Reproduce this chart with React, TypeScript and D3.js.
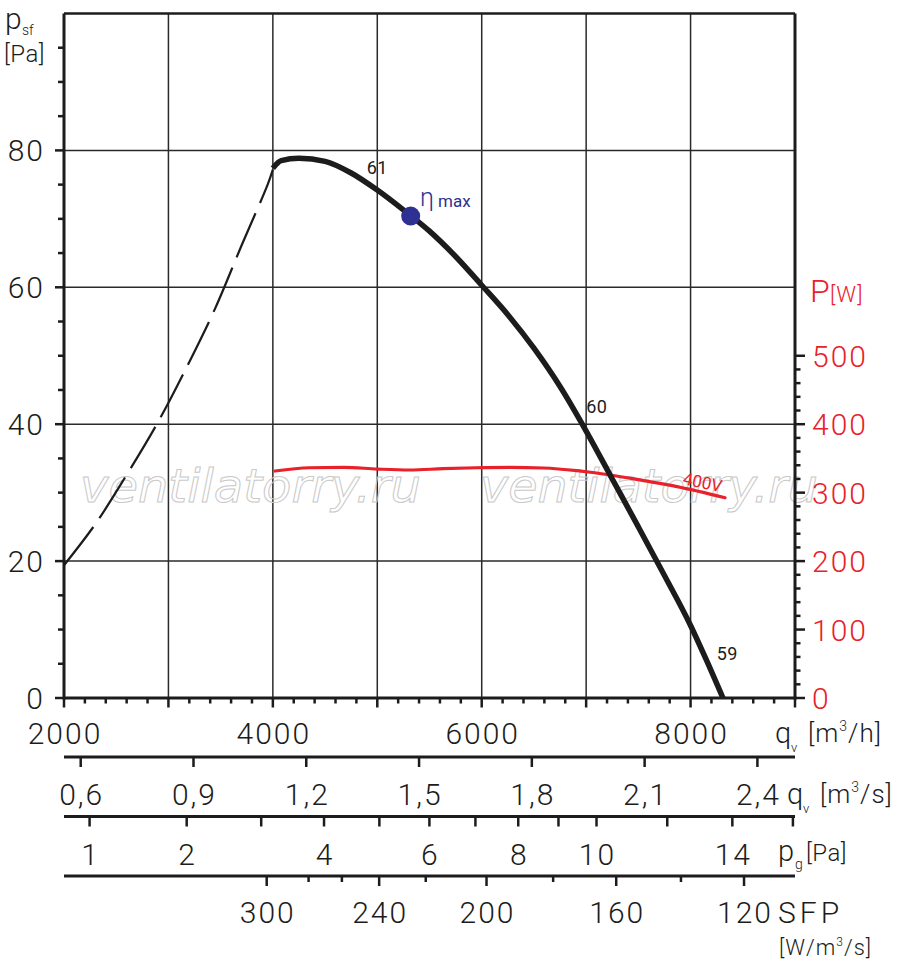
import React from 'react';
import * as d3 from 'd3';

// fan curve, solid part: flow [m3/h] / static pressure [Pa]
const flowSolid = [4000, 4080, 4250, 4500, 4750, 5000, 5250, 5500, 5750, 6000, 6250, 6500, 6750, 7000, 7250, 7500, 7750, 8000, 8150, 8310];
const pressSolid = [77.4, 78.5, 78.85, 78.4, 76.7, 74.2, 71.3, 68.2, 64.5, 60.3, 56.0, 51.1, 45.5, 39.0, 32.0, 25.0, 17.9, 10.6, 5.6, 0];

// unstable (dashed) part
const flowDash = [2000, 2300, 2600, 2900, 3200, 3450, 3700, 3950, 4000];
const pressDash = [19.4, 25.4, 32.6, 40.3, 49.1, 57.0, 66.1, 75.0, 77.2];

// power input at 400V [W]
const flowPower = [4020, 4350, 4680, 5000, 5310, 5630, 5950, 6270, 6590, 6910, 7230, 7550, 7870, 8330];
const power = [331.6, 336.4, 337.0, 334.5, 333.1, 335.0, 336.4, 337.0, 336.0, 332.1, 325.8, 317.5, 308.8, 292.6];

// best efficiency point
const etaFlow = 5320;
const etaPress = 70.4;

// noise labels along the curve
const noiseText = ['61', '60', '59'];
const noiseFlow = [5000, 7000, 8250];
const noisePress = [76.6, 41.6, 5.6];

// axes
const pressTicks = [0, 20, 40, 60, 80];
const powerTicks = [0, 100, 200, 300, 400, 500];
const flowTicks = [2000, 4000, 6000, 8000];
const flowGrid = [3000, 4000, 5000, 6000, 7000, 8000];
const flowSecTicks = [0.6, 0.9, 1.2, 1.5, 1.8, 2.1, 2.4];
const flowSecLabels = ['0,6', '0,9', '1,2', '1,5', '1,8', '2,1', '2,4'];
const dynTicks = [1, 2, 3, 4, 5, 6, 7, 8, 9, 10, 12, 14, 16];
const dynLabels = [1, 2, 4, 6, 8, 10, 14];
const dynRefFlow = 2245; // flow at 1 Pa dynamic pressure
const sfpTicks = [300, 280, 260, 240, 220, 200, 180, 160, 140, 120];
const sfpFlow = [3941, 4342, 4661, 5018, 5464, 6046, 6684, 7288, 7908, 8512];
const sfpLabels = [300, 240, 200, 160, 120];

const W = 900;
const H = 970;
const L = 64, R = 795, T = 13.5, B = 698;

const FONT = "Roboto, 'DejaVu Sans', sans-serif";
const RED = '#e8212a';
const BLUE = '#2e3192';
const INK = '#1c1c1c';

const x = d3.scaleLinear().domain([2000, 9000]).range([L, R]);
const y = d3.scaleLinear().domain([0, 100]).range([B, T]);
const yP = d3.scaleLinear().domain([0, 1000]).range([B, T]);
const xSec = d3.scaleLinear().domain([2000 / 3600, 9000 / 3600]).range([L, R]);
const dynToFlow = d3.scaleSqrt().domain([0, 1]).range([0, dynRefFlow]);

const line = d3.line<[number, number]>().x(d => x(d[0])).y(d => y(d[1])).curve(d3.curveMonotoneX);
const lineDash = d3.line<[number, number]>().x(d => x(d[0])).y(d => y(d[1])).curve(d3.curveCatmullRom);
const linePow = d3.line<[number, number]>().x(d => x(d[0])).y(d => yP(d[1])).curve(d3.curveMonotoneX);

const zip = (a: number[], b: number[]) => a.map((v, i) => [v, b[i]] as [number, number]);

const App: React.FC = () => {
  const minorP = d3.range(5, 100, 5).filter(v => v % 20 !== 0);
  const minorW = d3.range(20, 520, 20).filter(v => v % 100 !== 0);
  const minorQ = d3.range(2200, 9000, 200).filter(v => v % 1000 !== 0);
  const ax2 = B + 59;
  const ax3 = B + 118.5;
  const ax4 = B + 178;

  return (
    <svg width={W} height={H} style={{ position: 'absolute', left: 0, top: 0, background: '#fff' }}
      fontFamily={FONT} fontWeight={300}>
      {/* grid */}
      <g stroke="#2a2a2a" strokeWidth={1.5}>
        {pressTicks.filter(v => v > 0).map(v => (
          <line key={'h' + v} x1={L} x2={R} y1={y(v)} y2={y(v)} />
        ))}
        {flowGrid.map(v => (
          <line key={'v' + v} x1={x(v)} x2={x(v)} y1={T} y2={B} />
        ))}
      </g>

      {/* watermark */}
      <g fill="none" stroke="#c9c9c9" strokeWidth={1} fontFamily="'DejaVu Sans', sans-serif"
        fontStyle="italic" fontWeight={400} fontSize={46}>
        <text x={80} y={501.5} textLength={341} lengthAdjust="spacingAndGlyphs">ventilatorry.ru</text>
        <text x={480} y={501.5} textLength={338} lengthAdjust="spacingAndGlyphs">ventilatorry.ru</text>
      </g>

      {/* frame */}
      <line x1={L} x2={R} y1={T} y2={T} stroke={INK} strokeWidth={2.5} />
      <line x1={L} x2={L} y1={T} y2={B + 1.5} stroke={INK} strokeWidth={3} />
      <line x1={R} x2={R} y1={T} y2={B + 1.5} stroke={INK} strokeWidth={3} />
      <line x1={L} x2={R + 1.5} y1={B} y2={B} stroke={INK} strokeWidth={3} />

      {/* left axis ticks */}
      <g stroke={INK}>
        {pressTicks.map(v => (
          <line key={'pt' + v} x1={L - 9} x2={L} y1={y(v)} y2={y(v)} strokeWidth={2.5} />
        ))}
        {minorP.map(v => (
          <line key={'pm' + v} x1={L - 6} x2={L} y1={y(v)} y2={y(v)} strokeWidth={2.5} />
        ))}
      </g>
      <g fontSize={30} letterSpacing={2} fill={INK} textAnchor="end">
        {pressTicks.map(v => (
          <text key={'pl' + v} x={L - 19} y={y(v) + 11}>{v}</text>
        ))}
      </g>

      {/* right axis ticks */}
      <g stroke={INK}>
        {powerTicks.map(v => (
          <line key={'wt' + v} x1={R} x2={R + 10} y1={yP(v)} y2={yP(v)} strokeWidth={2.5} />
        ))}
        {minorW.map(v => (
          <line key={'wm' + v} x1={R} x2={R + 5.5} y1={yP(v)} y2={yP(v)} strokeWidth={2.5} />
        ))}
      </g>
      <g fontSize={30} letterSpacing={2} fill={RED}>
        {powerTicks.map(v => (
          <text key={'wl' + v} x={R + 17} y={yP(v) + 11}>{v}</text>
        ))}
      </g>
      <text x={810} y={302} fontSize={32} fill={RED}>P</text>
      <text x={830} y={302} fontSize={22} fill={RED} letterSpacing={1}>[W]</text>

      {/* y title */}
      <text x={5} y={28.5} fontSize={30} fill={INK}>p</text>
      <text x={22} y={35} fontSize={14} fill={INK}>sf</text>
      <text x={4} y={62} fontSize={24} fill={INK} letterSpacing={0.5}>[Pa]</text>

      {/* main x axis ticks */}
      <g stroke={INK}>
        {d3.range(2000, 9001, 1000).map(v => (
          <line key={'qt' + v} x1={x(v)} x2={x(v)} y1={B} y2={B + 9.5} strokeWidth={2.5} />
        ))}
        {minorQ.map(v => (
          <line key={'qm' + v} x1={x(v)} x2={x(v)} y1={B} y2={B + 5.5} strokeWidth={2.5} />
        ))}
      </g>
      <g fontSize={30} letterSpacing={2} fill={INK} textAnchor="middle">
        {flowTicks.map(v => (
          <text key={'ql' + v} x={x(v) + 1} y={744}>{v}</text>
        ))}
      </g>
      <text x={775} y={743} fontSize={29} fill={INK}>q</text>
      <text x={791} y={752} fontSize={13} fill={INK}>v</text>
      <text x={808} y={742} fontSize={26} fill={INK} letterSpacing={1}>
        [m<tspan fontSize={14} dy={-11}>3</tspan><tspan dy={11}>/h]</tspan>
      </text>

      {/* m3/s axis */}
      <line x1={L} x2={R} y1={ax2} y2={ax2} stroke={INK} strokeWidth={3} />
      <g stroke={INK} strokeWidth={2.5}>
        {flowSecTicks.map(v => (
          <line key={'st' + v} x1={xSec(v)} x2={xSec(v)} y1={ax2} y2={ax2 + 10} />
        ))}
      </g>
      <g fontSize={30} letterSpacing={2} fill={INK} textAnchor="middle">
        {flowSecTicks.map((v, i) => (
          <text key={'sl' + v} x={xSec(v) + 1} y={805}>{flowSecLabels[i]}</text>
        ))}
      </g>
      <text x={787} y={804} fontSize={29} fill={INK}>q</text>
      <text x={803} y={813} fontSize={13} fill={INK}>v</text>
      <text x={820} y={803} fontSize={26} fill={INK} letterSpacing={1}>
        [m<tspan fontSize={14} dy={-11}>3</tspan><tspan dy={11}>/s]</tspan>
      </text>

      {/* dynamic pressure axis */}
      <line x1={L} x2={R} y1={ax3} y2={ax3} stroke={INK} strokeWidth={3} />
      <g stroke={INK} strokeWidth={2.5}>
        {dynTicks.map(v => (
          <line key={'dt' + v} x1={x(dynToFlow(v))} x2={x(dynToFlow(v))} y1={ax3} y2={ax3 + 10} />
        ))}
      </g>
      <g fontSize={30} letterSpacing={2} fill={INK} textAnchor="middle">
        {dynLabels.map(v => (
          <text key={'dl' + v} x={x(dynToFlow(v)) + 1} y={865}>{v}</text>
        ))}
      </g>
      <text x={778} y={861} fontSize={29} fill={INK}>p</text>
      <text x={795} y={869} fontSize={14} fill={INK}>g</text>
      <text x={806} y={861} fontSize={24} fill={INK} letterSpacing={0.5}>[Pa]</text>

      {/* SFP axis */}
      <line x1={L} x2={R} y1={ax4} y2={ax4} stroke={INK} strokeWidth={3} />
      <g stroke={INK} strokeWidth={2.5}>
        {sfpTicks.map((v, i) => (
          <line key={'ft' + v} x1={x(sfpFlow[i])} x2={x(sfpFlow[i])} y1={ax4}
            y2={ax4 + (sfpLabels.includes(v) ? 10 : 6)} />
        ))}
      </g>
      <g fontSize={30} letterSpacing={2} fill={INK} textAnchor="middle">
        {sfpTicks.map((v, i) => sfpLabels.includes(v) ? (
          <text key={'fl' + v} x={x(sfpFlow[i]) + 1} y={923}>{v}</text>
        ) : null)}
      </g>
      <text x={778} y={923} fontSize={30} fill={INK} letterSpacing={4}>SFP</text>
      <text x={779} y={955} fontSize={22} fill={INK} letterSpacing={1}>
        [W/m<tspan fontSize={12} dy={-9}>3</tspan><tspan dy={9}>/s]</tspan>
      </text>

      {/* curves */}
      <path d={lineDash(zip(flowDash, pressDash)) || ''} fill="none" stroke={INK} strokeWidth={2.2}
        strokeDasharray="48 11" />
      <path d={linePow(zip(flowPower, power)) || ''} fill="none" stroke={RED} strokeWidth={3.2}
        strokeLinecap="round" />
      <path d={line(zip(flowSolid, pressSolid)) || ''} fill="none" stroke={INK} strokeWidth={5.5} />

      {/* noise labels */}
      <g fontSize={18} fill={INK} letterSpacing={0.5} fontWeight={400}>
        {noiseText.map((t, i) => (
          <text key={t} x={x(noiseFlow[i])} y={y(noisePress[i])}
            textAnchor={i === 0 ? 'middle' : 'start'}>{t}</text>
        ))}
      </g>
      <text x={682} y={484} fontSize={17} fill={RED} fontWeight={400}
        transform="rotate(12 682 484)">400V</text>

      {/* eta max */}
      <circle cx={x(etaFlow)} cy={y(etaPress)} r={9.5} fill={BLUE} />
      <text x={420} y={205.5} fontSize={25} fill={BLUE}>η</text>
      <text x={438} y={206.5} fontSize={17} fill={BLUE} fontWeight={400}>max</text>
    </svg>
  );
};

export default App;
